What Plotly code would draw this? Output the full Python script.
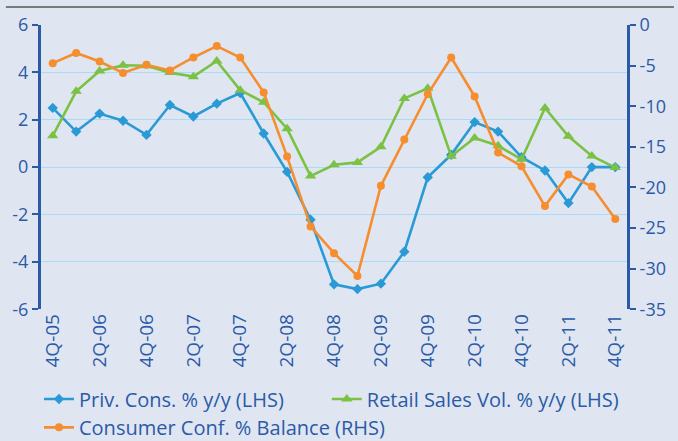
import plotly.graph_objects as go

# Quarterly observations, 4Q-05 .. 4Q-11
quarters = ["4Q-05",
            "1Q-06", "2Q-06", "3Q-06", "4Q-06",
            "1Q-07", "2Q-07", "3Q-07", "4Q-07",
            "1Q-08", "2Q-08", "3Q-08", "4Q-08",
            "1Q-09", "2Q-09", "3Q-09", "4Q-09",
            "1Q-10", "2Q-10", "3Q-10", "4Q-10",
            "1Q-11", "2Q-11", "3Q-11", "4Q-11"]

priv_cons = [2.5, 1.5, 2.26, 1.96, 1.36,
             2.62, 2.14, 2.68, 3.13,
             1.42, -0.2, -2.22, -4.95,
             -5.15, -4.92, -3.57, -0.43,
             0.52, 1.9, 1.5, 0.42,
             -0.14, -1.52, 0.0, 0.0]

retail_sales = [1.32, 3.2, 4.06, 4.3, 4.28,
                3.99, 3.82, 4.48, 3.25,
                2.74, 1.62, -0.38, 0.1,
                0.2, 0.86, 2.9, 3.33,
                0.46, 1.23, 0.9, 0.33,
                2.5, 1.3, 0.47, -0.02]

consumer_conf = [-4.7, -3.45, -4.5, -5.9, -4.9,
                 -5.6, -4.0, -2.6, -4.0,
                 -8.3, -16.2, -24.8, -28.1,
                 -30.9, -19.8, -14.1, -8.5,
                 -4.0, -8.8, -15.7, -17.4,
                 -22.3, -18.4, -19.9, -23.9]

left_ticks = [6, 4, 2, 0, -2, -4, -6]
right_ticks = [0, -5, -10, -15, -20, -25, -30, -35]
shown_quarters = quarters[::2]

DARK = "#2b5aa6"
BLUE = "#2a9ad6"
GREEN = "#7bc143"
ORANGE = "#f68d2e"
BG = "#dfe6f2"
GRID = "#a9dcf4"
FONT = "Open Sans"

fig = go.Figure()
fig.add_trace(go.Scatter(
    x=quarters, y=priv_cons, name="Priv. Cons. % y/y (LHS)",
    mode="lines+markers", line=dict(color=BLUE, width=2.6),
    marker=dict(symbol="diamond", size=8, color=BLUE),
    legend="legend"))
fig.add_trace(go.Scatter(
    x=quarters, y=retail_sales, name="Retail Sales Vol. % y/y (LHS)",
    mode="lines+markers", line=dict(color=GREEN, width=2.6),
    marker=dict(symbol="triangle-up", size=10, color=GREEN),
    legend="legend2"))
fig.add_trace(go.Scatter(
    x=quarters, y=consumer_conf, name="Consumer Conf. % Balance (RHS)",
    mode="lines+markers", line=dict(color=ORANGE, width=2.6),
    marker=dict(symbol="circle", size=8, color=ORANGE),
    yaxis="y2", legend="legend3"))

n = len(quarters)
# one legend box per entry: two on the first row, one on the second
legend_common = dict(
    orientation="h", xanchor="left", yanchor="middle",
    xref="container", yref="container",
    font=dict(family=FONT, size=20, color=DARK),
    bgcolor="rgba(0,0,0,0)", itemwidth=30)

fig.update_layout(
    width=678, height=441,
    showlegend=True,
    margin=dict(l=33, r=45, t=19, b=131),
    paper_bgcolor=BG, plot_bgcolor=BG,
    font=dict(family=FONT, color=DARK),
    xaxis=dict(
        type="category", categoryorder="array", categoryarray=quarters,
        range=[-0.5, n - 0.5],
        tickmode="array", tickvals=shown_quarters, ticktext=shown_quarters,
        tickangle=-90, tickfont=dict(size=19, color=DARK),
        ticks="", showline=False, showgrid=False, zeroline=False),
    xaxis2=dict(
        overlaying="x", anchor="free", position=0.5,
        range=[-0.5, n - 0.5], tickmode="linear", tick0=-0.5, dtick=1,
        ticks="outside", ticklen=6, tickwidth=2, tickcolor=DARK,
        showticklabels=False, showline=True, linecolor=DARK, linewidth=3,
        showgrid=False, zeroline=False),
    yaxis=dict(
        range=[-6, 6], tickmode="array", tickvals=left_ticks,
        ticktext=[str(v) for v in left_ticks],
        tickfont=dict(size=18, color=DARK),
        ticks="outside", ticklen=6, tickwidth=2, tickcolor=DARK,
        showline=True, linecolor=DARK, linewidth=3,
        showgrid=True, gridcolor=GRID, gridwidth=1.3, zeroline=False),
    yaxis2=dict(
        range=[-35, 0], overlaying="y", side="right",
        tickmode="array", tickvals=right_ticks,
        ticktext=[str(v) for v in right_ticks],
        tickfont=dict(size=18, color=DARK),
        ticks="outside", ticklen=6, tickwidth=2, tickcolor=DARK,
        showline=True, linecolor=DARK, linewidth=3,
        showgrid=False, zeroline=False),
    legend=dict(x=0.0575, y=0.0952, **legend_common),
    legend2=dict(x=0.482, y=0.0952, **legend_common),
    legend3=dict(x=0.0575, y=0.031, **legend_common),
    shapes=[dict(type="line", xref="paper", yref="paper",
                 x0=-0.06, x1=1.08, y0=1 + 18.5 / 291, y1=1 + 18.5 / 291,
                 line=dict(color="#7a7a7a", width=2))],
)

fig.write_html("out.html")
